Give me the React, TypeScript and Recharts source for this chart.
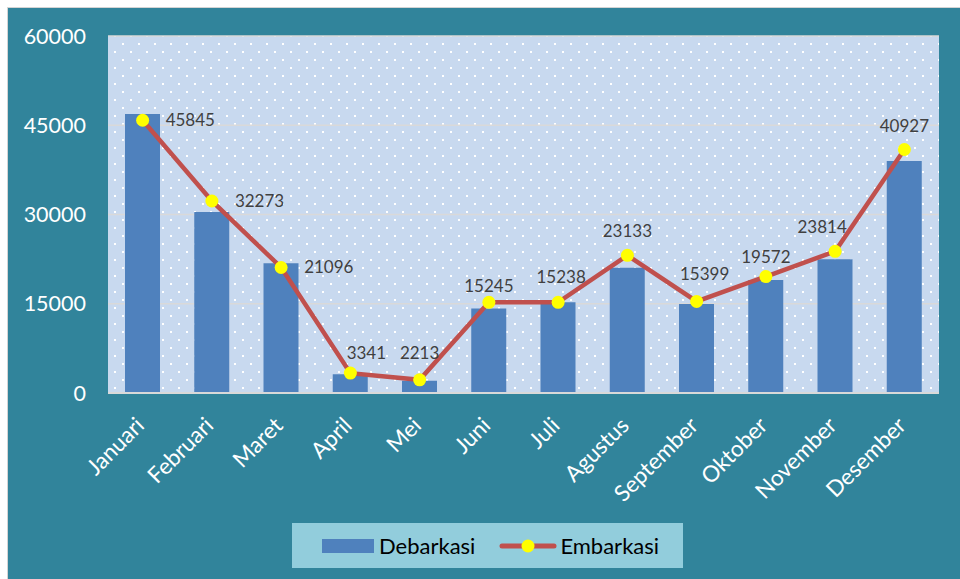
import React from 'react';
import { ComposedChart, Bar, Line, XAxis, YAxis, CartesianGrid, Legend, LabelList } from 'recharts';

const months = ['Januari', 'Februari', 'Maret', 'April', 'Mei', 'Juni', 'Juli', 'Agustus', 'September', 'Oktober', 'November', 'Desember'];
const debarkasi = [46900, 30400, 21800, 3150, 2070, 14200, 15250, 21050, 14950, 19000, 22500, 39000];
const embarkasi = [45845, 32273, 21096, 3341, 2213, 15245, 15238, 23133, 15399, 19572, 23814, 40927];
const yTicks = [0, 15000, 30000, 45000, 60000];

// label placement relative to the point: [dx, dy, anchor]
const labelPlacement: [number, number, string][] = [
  [23, 6, 'start'], [23, 6, 'start'], [23, 6, 'start'],
  [16, -14, 'middle'], [0, -21, 'middle'], [0, -10, 'middle'], [3, -19, 'middle'],
  [0, -18, 'middle'], [8, -21, 'middle'], [0, -14, 'middle'], [-13, -18, 'middle'], [0, -17, 'middle'],
];

const data = months.map((m, i) => ({ month: m, Debarkasi: debarkasi[i], Embarkasi: embarkasi[i] }));

const FONT = 'Lato, "Open Sans", sans-serif';
const TEAL = '#31849B';
const BAR = '#4F81BD';
const LINE = '#C0504D';

const XTick = (props: any) => {
  const { x, y, payload } = props;
  const ax = x + 3;
  const ay = y + 34;
  return (
    <text x={ax} y={ay} fill="#FFFFFF" fontFamily={FONT} fontSize={22.5} textAnchor="end" transform={`rotate(-45, ${ax}, ${ay})`}>
      {payload.value}
    </text>
  );
};

const YTick = (props: any) => {
  const { y, payload } = props;
  return (
    <text x={78} y={y} dy="0.36em" fill="#FFFFFF" fontFamily={FONT} fontSize={21.5} textAnchor="end">
      {payload.value}
    </text>
  );
};

const PointLabel = (props: any) => {
  const { x, y, value, index } = props;
  const p = labelPlacement[index] || [0, -18, 'middle'];
  return (
    <text x={x + p[0]} y={y + p[1]} fill="#404040" fontFamily={FONT} fontSize={17} textAnchor={p[2] as any}>
      {value}
    </text>
  );
};

const LegendBox = () => (
  <div style={{ width: 391, height: 45, background: '#92CDDC', display: 'flex', alignItems: 'center', fontFamily: FONT, fontSize: 22, color: '#000' }}>
    <div style={{ width: 52, height: 14, background: BAR, marginLeft: 30 }} />
    <span style={{ marginLeft: 5 }}>Debarkasi</span>
    <svg width={58} height={16} style={{ marginLeft: 24 }}>
      <line x1={3} y1={8} x2={55} y2={8} stroke={LINE} strokeWidth={5} strokeLinecap="round" />
      <circle cx={29} cy={8} r={6.5} fill="#FFFF00" />
    </svg>
    <span style={{ marginLeft: 3 }}>Embarkasi</span>
  </div>
);

export default function App() {
  return (
    <div style={{ position: 'absolute', left: 7, top: 7, width: 952, height: 571, background: TEAL, borderLeft: '1px solid #D4D4D4', borderTop: '1px solid #D4D4D4' }}>
      <ComposedChart width={952} height={571} data={data} margin={{ top: 28, right: 21, bottom: 0, left: 0 }}>
        <defs>
          <pattern id="dots" x={0} y={0} width={16} height={16} patternUnits="userSpaceOnUse">
            <rect x={0} y={0} width={16} height={16} fill="#C8D9EF" />
            <rect x={2} y={3} width={2} height={2} fill="#FFFFFF" />
            <rect x={10} y={11} width={2} height={2} fill="#FFFFFF" />
          </pattern>
        </defs>
        <CartesianGrid fill="url(#dots)" fillOpacity={1} vertical={false} stroke="#D9D9D9" strokeWidth={1.5} />
        <XAxis dataKey="month" height={186} interval={0} tickLine={false} tickSize={0} tickMargin={0} axisLine={{ stroke: '#D9D9D9', strokeWidth: 2 }} tick={<XTick />} />
        <YAxis width={100} domain={[0, 60000]} ticks={yTicks} axisLine={false} tickLine={false} tickSize={0} tick={<YTick />} interval={0} />
        <Bar dataKey="Debarkasi" fill={BAR} barSize={35} isAnimationActive={false} />
        <Line dataKey="Embarkasi" stroke={LINE} strokeWidth={4.5} isAnimationActive={false}
          dot={{ r: 6.5, fill: '#FFFF00', stroke: 'none' }} activeDot={false}>
          <LabelList dataKey="Embarkasi" content={<PointLabel />} />
        </Line>
        <Legend layout="horizontal" verticalAlign="middle" align="center" content={<LegendBox />}
          wrapperStyle={{ left: 284, top: 515, width: 391, height: 45 }} />
      </ComposedChart>
    </div>
  );
}
